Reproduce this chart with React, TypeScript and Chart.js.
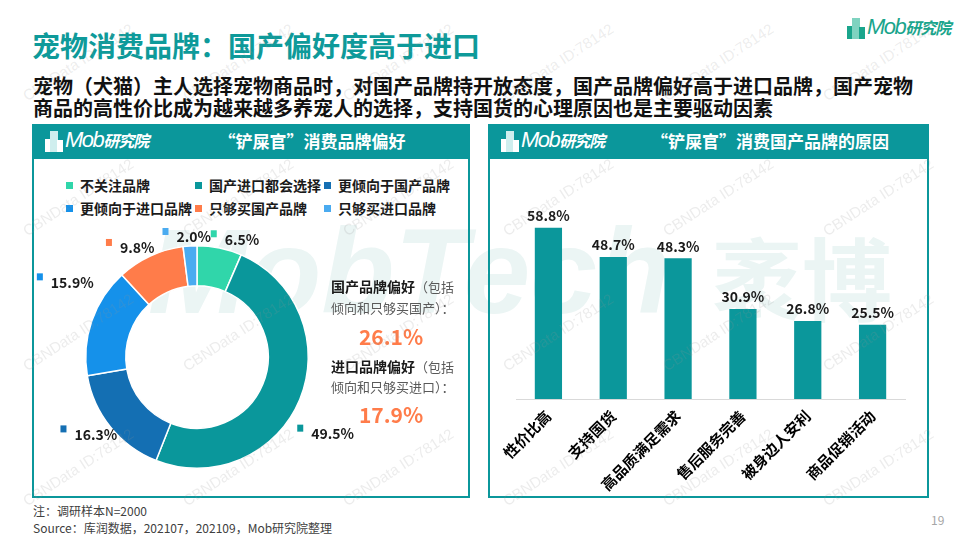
import React, { useEffect, useRef } from 'react';
import { Chart, registerables } from 'chart.js';

Chart.register(...registerables);

const FONT = '"Noto Sans CJK SC", "Noto Sans", sans-serif';
const TEAL = '#0b979b';

// ---- Data ----
const brandCategories = ['不关注品牌', '国产进口都会选择', '更倾向于国产品牌', '更倾向于进口品牌', '只够买国产品牌', '只够买进口品牌'];
const brandShares = [6.5, 49.5, 16.3, 15.9, 9.8, 2.0];
const brandColors = ['#30d6aa', '#0a979b', '#146fb3', '#1591ea', '#ff7c4a', '#4aabf0'];

const reasonCategories = ['性价比高', '支持国货', '高品质满足需求', '售后服务完善', '被身边人安利', '商品促销活动'];
const reasonShares = [58.8, 48.7, 48.3, 30.9, 26.8, 25.5];

const domesticPref = brandShares[2] + brandShares[4];
const importPref = brandShares[3] + brandShares[5];

const donutLabelPlugin = {
  id: 'donutLabels',
  afterDatasetsDraw(chart: any) {
    const ctx = chart.ctx;
    const meta = chart.getDatasetMeta(0);
    ctx.save();
    ctx.font = `bold 14px ${FONT}`;
    ctx.textBaseline = 'middle';
    ctx.textAlign = 'left';
    const boxes = meta.data.map((a: any, i: number) => {
      const mid = (a.startAngle + a.endAngle) / 2;
      const rx = a.outerRadius + 28;
      const ry = a.outerRadius + 10;
      const cx = a.x + Math.cos(mid) * rx;
      let dy = Math.sin(mid) * ry;
      // keep labels out of the band level with the ring's sides
      const band = a.outerRadius * 0.68;
      if (Math.abs(dy) < band) dy = (dy < 0 ? -1 : 1) * band;
      const cy = a.y + dy;
      const txt = brandShares[i].toFixed(1) + '%';
      const tw = ctx.measureText(txt).width;
      const w = 6 + 8 + tw;
      return { txt, cx, cy, w, left: cx - w / 2 };
    });
    // resolve horizontal overlaps between labels on the same line
    for (let i = 0; i < boxes.length; i++) {
      for (let j = i + 1; j < boxes.length; j++) {
        const A = boxes[i], B = boxes[j];
        if (Math.abs(A.cy - B.cy) > 16) continue;
        const [L, R] = A.left < B.left ? [A, B] : [B, A];
        const overlap = L.left + L.w + 8 - R.left;
        if (overlap > 0) {
          L.left -= overlap / 2;
          R.left += overlap / 2;
        }
      }
    }
    boxes.forEach((b: any, i: number) => {
      ctx.fillStyle = brandColors[i];
      ctx.fillRect(b.left, b.cy - 8, 6, 7);
      ctx.fillStyle = '#1a1a1a';
      ctx.fillText(b.txt, b.left + 14, b.cy + 1);
    });
    ctx.restore();
  },
};

const barValuePlugin = {
  id: 'barValues',
  afterDatasetsDraw(chart: any) {
    const ctx = chart.ctx;
    const meta = chart.getDatasetMeta(0);
    ctx.save();
    ctx.font = `bold 14px ${FONT}`;
    ctx.textAlign = 'center';
    ctx.textBaseline = 'bottom';
    ctx.fillStyle = '#1a1a1a';
    meta.data.forEach((b: any, i: number) => {
      ctx.fillText(reasonShares[i].toFixed(1) + '%', b.x, b.y - 5);
    });
    ctx.restore();
  },
};

function BrandDonut() {
  const ref = useRef<HTMLCanvasElement>(null);
  useEffect(() => {
    const chart = new Chart(ref.current!, {
      type: 'doughnut',
      data: {
        labels: brandCategories,
        datasets: [{ data: brandShares, backgroundColor: brandColors, borderColor: '#ffffff', borderWidth: 1.5 }],
      },
      options: {
        responsive: false,
        animation: false,
        cutout: '64%',
        layout: { padding: { left: 51, right: 51, top: 31, bottom: 21 } },
        plugins: { legend: { display: false }, tooltip: { enabled: false } },
      },
      plugins: [donutLabelPlugin],
    } as any);
    return () => chart.destroy();
  }, []);
  return (
    <canvas ref={ref} width={326} height={276}
      style={{ position: 'absolute', left: 34, top: 214, width: 326, height: 276 }} />
  );
}

function ReasonBars() {
  const ref = useRef<HTMLCanvasElement>(null);
  useEffect(() => {
    const chart = new Chart(ref.current!, {
      type: 'bar',
      data: {
        labels: reasonCategories,
        datasets: [{ data: reasonShares, backgroundColor: TEAL, barPercentage: 0.42, categoryPercentage: 1 }],
      },
      options: {
        responsive: false,
        animation: false,
        layout: { padding: { left: 26, right: 21, top: 35, bottom: 0 } },
        scales: {
          x: {
            grid: { display: false, drawTicks: false },
            border: { display: true, color: '#d9d9d9', width: 1 },
            ticks: {
              color: '#000',
              font: { family: FONT, size: 15, weight: 'bold' },
              minRotation: 45,
              maxRotation: 45,
              autoSkip: false,
              padding: 8,
            },
            afterFit: (s: any) => { s.height = 97; },
          },
          y: { display: false, min: 0, max: 70 },
        },
        plugins: { legend: { display: false }, tooltip: { enabled: false } },
      },
      plugins: [barValuePlugin],
    } as any);
    return () => chart.destroy();
  }, []);
  return (
    <canvas ref={ref} width={436} height={336}
      style={{ position: 'absolute', left: 490, top: 160, width: 436, height: 336 }} />
  );
}

function Logo({ left, top, color, light }: { left: number; top: number; color: string; light: string }) {
  return (
    <div style={{ position: 'absolute', left, top, height: 22, width: 120 }}>
      <div style={{ position: 'absolute', left: 0, top: 9, width: 7, height: 13, background: color }} />
      <div style={{ position: 'absolute', left: 5, top: 1, width: 8, height: 21, background: light }} />
      <div style={{ position: 'absolute', left: 12, top: 10, width: 6, height: 12, background: color }} />
      <div style={{ position: 'absolute', left: 20, top: -3, whiteSpace: 'nowrap', color, fontStyle: 'italic', lineHeight: '26px' }}>
        <span style={{ fontFamily: '"Liberation Sans", Arial, sans-serif', fontSize: 22, letterSpacing: -1.5 }}>Mob</span>
        <span style={{ fontFamily: FONT, fontSize: 16, fontWeight: 'bold', letterSpacing: -1 }}>研究院</span>
      </div>
    </div>
  );
}

const wmRows = [62, 197, 332, 467];
const wmCols = [78, 238, 398, 558, 718, 878];

export default function App() {
  const legendItems = brandCategories.map((c, i) => {
    const col = i % 3;
    const row = Math.floor(i / 3);
    return (
      <div key={c} style={{
        position: 'absolute', left: 66 + col * 129, top: 176 + row * 23, height: 18,
        display: 'flex', alignItems: 'center', whiteSpace: 'nowrap',
      }}>
        <span style={{ display: 'inline-block', width: 7, height: 7, background: brandColors[i], marginRight: 7 }} />
        <span style={{ fontSize: 14, fontWeight: 'bold', color: '#1a1a1a', lineHeight: '18px' }}>{c}</span>
      </div>
    );
  });

  const gray = { fontSize: 13, color: '#595959', fontWeight: 'normal' as const };

  return (
    <div style={{ position: 'absolute', left: 0, top: 0, width: 960, height: 540, background: '#fff', overflow: 'hidden', fontFamily: FONT }}>
      {/* background brand watermark */}
      <div style={{ position: 'absolute', left: 148, top: 196, fontFamily: '"Liberation Sans", Arial, sans-serif', fontStyle: 'italic', fontWeight: 'bold', fontSize: 120, color: '#ebf5f4', lineHeight: '150px', whiteSpace: 'nowrap' }}>MobTech</div>
      <div style={{ position: 'absolute', left: 712, top: 220, fontFamily: FONT, fontWeight: 'bold', fontSize: 90, color: '#ebf5f4', lineHeight: '110px', whiteSpace: 'nowrap' }}>袤博</div>

      {/* title */}
      <div style={{ position: 'absolute', left: 32, top: 27, fontSize: 28, lineHeight: '36px', fontWeight: 'bold', color: '#0e9a9a', whiteSpace: 'nowrap' }}>
        宠物消费品牌：国产偏好度高于进口
      </div>
      <div style={{ position: 'absolute', left: 33, top: 75, fontSize: 20, lineHeight: '22px', fontWeight: 'bold', color: '#111', whiteSpace: 'nowrap' }}>
        宠物（犬猫）主人选择宠物商品时，对国产品牌持开放态度，国产品牌偏好高于进口品牌，国产宠物<br />
        商品的高性价比成为越来越多养宠人的选择，支持国货的心理原因也是主要驱动因素
      </div>
      <Logo left={847} top={17} color="#1aa58c" light="#7fd3c0" />

      {/* left panel */}
      <div style={{ position: 'absolute', left: 32, top: 124, width: 438, height: 374, border: `2px solid ${TEAL}`, boxSizing: 'border-box' }}>
        <div style={{ position: 'absolute', left: 0, top: 0, right: 0, height: 33, background: TEAL }} />
      </div>
      <Logo left={45} top={130} color="#ffffff" light="#cfeeee" />
      <div style={{ position: 'absolute', left: 154, width: 316, top: 128, textAlign: 'center', fontSize: 17, lineHeight: '26px', fontWeight: 'bold', color: '#fff', whiteSpace: 'nowrap' }}>
        “铲屎官”消费品牌偏好
      </div>
      {legendItems}
      <BrandDonut />
      <div style={{ position: 'absolute', left: 331, top: 276, lineHeight: '18px', whiteSpace: 'nowrap' }}>
        <span style={{ fontSize: 14, fontWeight: 'bold', color: '#1a1a1a' }}>国产品牌偏好</span><span style={gray}>（包括</span>
      </div>
      <div style={{ position: 'absolute', left: 331, top: 299, lineHeight: '18px', whiteSpace: 'nowrap', ...gray }}>倾向和只够买国产）：</div>
      <div style={{ position: 'absolute', left: 331, width: 120, top: 322, textAlign: 'center', fontSize: 21, lineHeight: '28px', fontWeight: 'bold', color: '#ff7c4a' }}>{domesticPref.toFixed(1)}%</div>
      <div style={{ position: 'absolute', left: 331, top: 356, lineHeight: '18px', whiteSpace: 'nowrap' }}>
        <span style={{ fontSize: 14, fontWeight: 'bold', color: '#1a1a1a' }}>进口品牌偏好</span><span style={gray}>（包括</span>
      </div>
      <div style={{ position: 'absolute', left: 331, top: 378, lineHeight: '18px', whiteSpace: 'nowrap', ...gray }}>倾向和只够买进口）：</div>
      <div style={{ position: 'absolute', left: 331, width: 120, top: 400, textAlign: 'center', fontSize: 21, lineHeight: '28px', fontWeight: 'bold', color: '#ff7c4a' }}>{importPref.toFixed(1)}%</div>

      {/* right panel */}
      <div style={{ position: 'absolute', left: 488, top: 124, width: 441, height: 374, border: `2px solid ${TEAL}`, boxSizing: 'border-box' }}>
        <div style={{ position: 'absolute', left: 0, top: 0, right: 0, height: 33, background: TEAL }} />
      </div>
      <Logo left={501} top={130} color="#ffffff" light="#cfeeee" />
      <div style={{ position: 'absolute', left: 612, width: 316, top: 128, textAlign: 'center', fontSize: 17, lineHeight: '26px', fontWeight: 'bold', color: '#fff', whiteSpace: 'nowrap' }}>
        “铲屎官”消费国产品牌的原因
      </div>
      <ReasonBars />

      {/* footer */}
      <div style={{ position: 'absolute', left: 33, top: 503, fontSize: 12, lineHeight: '16px', color: '#404040', whiteSpace: 'nowrap' }}>注：调研样本N=2000</div>
      <div style={{ position: 'absolute', left: 33, top: 520, fontSize: 12, lineHeight: '16px', color: '#404040', whiteSpace: 'nowrap' }}>Source：库润数据，202107，202109，Mob研究院整理</div>
      <div style={{ position: 'absolute', left: 931, top: 512, fontSize: 12, lineHeight: '16px', color: '#a6a6a6' }}>19</div>

      {/* foreground watermarks */}
      {wmRows.map((y) => wmCols.map((x) => (
        <div key={`${x}-${y}`} style={{
          position: 'absolute', left: x, top: y, transform: 'translate(-50%, -50%) rotate(-33deg)',
          fontFamily: '"Liberation Sans", Arial, sans-serif', fontSize: 15, color: 'rgba(150,150,150,0.18)',
          whiteSpace: 'nowrap', pointerEvents: 'none',
        }}>CBNData ID:78142</div>
      )))}
    </div>
  );
}
